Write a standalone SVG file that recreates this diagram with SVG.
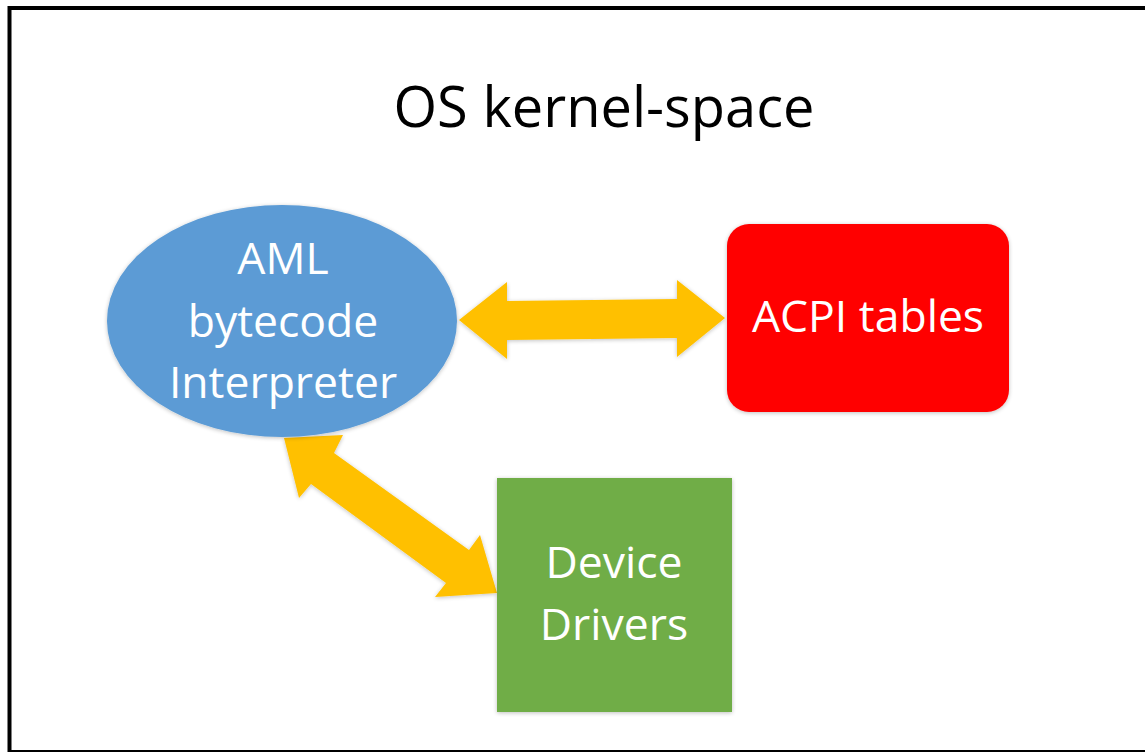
<svg xmlns="http://www.w3.org/2000/svg" width="1145" height="752" viewBox="0 0 1145 752">
  <defs>
    <filter id="sh" x="-10%" y="-10%" width="120%" height="120%">
      <feGaussianBlur in="SourceAlpha" stdDeviation="2"/>
      <feOffset dx="0" dy="1" result="b"/>
      <feComponentTransfer><feFuncA type="linear" slope="0.25"/></feComponentTransfer>
      <feMerge><feMergeNode/><feMergeNode in="SourceGraphic"/></feMerge>
    </filter>
  </defs>
  <style>
    .lbl { font-family: "Open Sans", "Liberation Sans", sans-serif; font-size: 44.5px; fill: #ffffff; text-anchor: middle; }
    .title { font-family: "Open Sans", "Liberation Sans", sans-serif; font-size: 56px; fill: #000000; text-anchor: middle; }
    .arrow { fill: #FFC000; filter: url(#sh); }
  </style>
  <rect x="0" y="0" width="1145" height="752" fill="#ffffff"/>
  <rect id="frame" x="9.5" y="8" width="1150" height="744" fill="none" stroke="#000" stroke-width="4"/>
  <text class="title" x="604" y="127">OS kernel-space</text>

  <g id="connectors">
    <polygon class="arrow" points="459,320 507,282 507,301 677,299 677,280 725,318 677,357 677,338 507,340 507,359"/>
    <polygon class="arrow" points="284,438 343,435 334,453 469,550 480,535 497,593 435,597 446,583 311,484 299,498"/>
  </g>

  <g id="aml">
    <ellipse cx="282" cy="321" rx="175" ry="116" fill="#5B9BD5" filter="url(#sh)"/>
    <text class="lbl" x="283" y="274">AML</text>
    <text class="lbl" x="283" y="337">bytecode</text>
    <text class="lbl" x="283" y="398">Interpreter</text>
  </g>

  <g id="acpi">
    <rect x="727" y="224" width="282" height="188" rx="22" fill="#FF0000" filter="url(#sh)"/>
    <text class="lbl" x="868" y="332">ACPI tables</text>
  </g>

  <g id="drivers">
    <rect x="497" y="478" width="235" height="234" fill="#70AD47" filter="url(#sh)"/>
    <text class="lbl" x="614" y="578">Device</text>
    <text class="lbl" x="614" y="640">Drivers</text>
  </g>
</svg>
